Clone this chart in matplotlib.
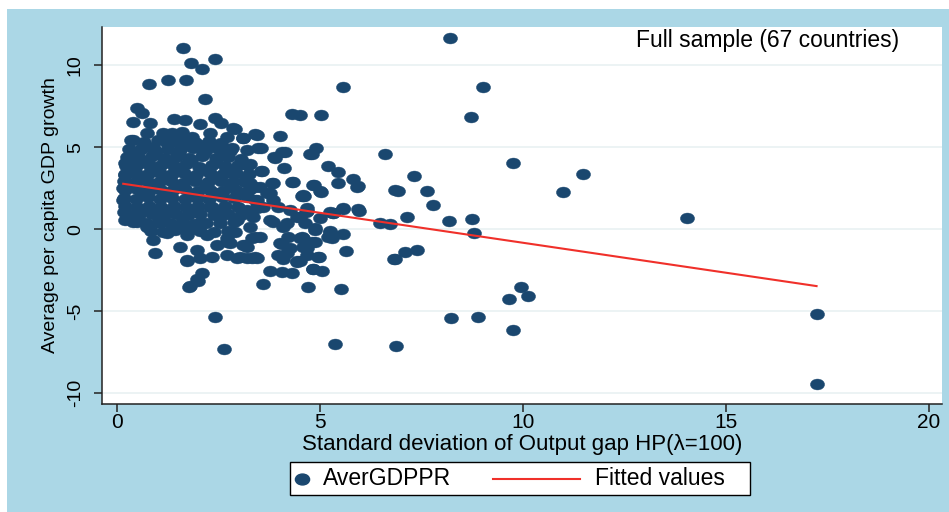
import matplotlib
matplotlib.use("Agg")
import matplotlib.pyplot as plt
import numpy as np
from matplotlib.path import Path
from matplotlib.transforms import Affine2D
from matplotlib.patches import Rectangle
from matplotlib.lines import Line2D

# ── Data ─────────────────────────────────────────────────────────────────────
# upper-left sparse part of the cloud
top_x = [1.64, 1.83, 2.42, 2.09, 0.80, 1.27, 1.71, 2.17, 0.49, 0.62, 0.41, 0.82,
         1.41, 1.68, 2.05, 2.42, 2.56, 2.91, 3.45, 0.39, 0.74, 1.15, 1.35, 1.60,
         1.85, 2.30, 2.71, 3.12, 0.57, 0.90, 1.23, 1.52, 1.76, 2.05, 2.42, 2.83,
         3.20, 3.49, 0.25, 0.49, 0.78]
top_y = [11.04, 10.16, 10.37, 9.76, 8.86, 9.10, 9.10, 7.93, 7.38, 7.11, 6.56, 6.50,
         6.73, 6.66, 6.42, 6.77, 6.50, 6.10, 5.75, 5.45, 5.85, 5.85, 5.85, 5.95,
         5.65, 5.85, 5.65, 5.55, 4.84, 5.04, 5.24, 5.34, 5.24, 5.14, 5.04, 4.94,
         4.84, 4.94, 3.98, 4.33, 4.12]

# dense core of the cloud
core_x = [0.35, 0.68, 1.02, 1.31, 1.62, 1.93, 2.27, 2.58,
          0.30, 0.63, 0.96, 1.26, 1.57, 1.88, 2.20, 2.51, 2.79,
          0.26, 0.56, 0.86, 1.16, 1.47, 1.79, 2.11, 2.44, 2.74, 3.05,
          0.23, 0.51, 0.81, 1.10, 1.41, 1.71, 2.02, 2.34, 2.66, 2.98,
          0.21, 0.48, 0.77, 1.06, 1.36, 1.66, 1.96, 2.29, 2.61, 2.94, 3.27,
          0.19, 0.46, 0.75, 1.04, 1.34, 1.63, 1.93, 2.24, 2.56, 2.86,
          0.21, 0.50, 0.79, 1.09, 1.39, 1.69, 2.00, 2.31, 2.62, 2.94, 3.26,
          0.19, 0.47, 0.77, 1.07, 1.37, 1.67, 1.97, 2.28, 2.59, 2.90,
          0.20, 0.50, 0.80, 1.10, 1.41, 1.71, 2.01, 2.34, 2.66, 2.99,
          0.26, 0.56, 0.86, 1.16, 1.46, 1.76, 2.06, 2.39, 2.73, 3.07,
          0.41, 0.71, 1.01, 1.31, 1.61, 1.91, 2.21, 2.55, 2.88,
          0.84, 1.14, 1.44, 1.75, 2.06, 2.39, 2.74]
core_y = [5.42, 5.31, 5.47, 5.36, 5.50, 5.33, 5.41, 5.28,
          4.87, 4.95, 4.80, 4.92, 4.85, 4.97, 4.83, 4.90, 4.78,
          4.41, 4.36, 4.47, 4.33, 4.44, 4.38, 4.46, 4.35, 4.42, 4.30,
          3.88, 3.95, 3.84, 3.92, 3.86, 3.97, 3.83, 3.90, 3.87, 3.93,
          3.38, 3.45, 3.35, 3.42, 3.37, 3.46, 3.33, 3.41, 3.36, 3.44, 3.39,
          2.93, 2.86, 2.95, 2.88, 2.97, 2.84, 2.92, 2.87, 2.94, 2.89,
          2.38, 2.45, 2.35, 2.42, 2.37, 2.44, 2.34, 2.41, 2.36, 2.43, 2.39,
          1.92, 1.86, 1.95, 1.88, 1.94, 1.85, 1.91, 1.87, 1.96, 1.89,
          1.41, 1.36, 1.44, 1.38, 1.43, 1.35, 1.42, 1.37, 1.45, 1.39,
          0.92, 0.86, 0.95, 0.88, 0.93, 0.85, 0.91, 0.87, 0.94, 0.89,
          0.42, 0.36, 0.44, 0.38, 0.43, 0.35, 0.41, 0.37, 0.45,
          -0.08, -0.14, -0.05, -0.12, -0.07, -0.15, -0.10]

# extra dots sitting between the rows of the core
fill_x = [0.36, 0.92, 1.52, 2.14, 2.71, 0.64, 1.23, 1.83, 2.45, 0.33, 0.95, 1.55,
          2.17, 2.78, 0.62, 1.24, 1.86, 2.48, 0.35, 0.97, 1.58, 2.19, 2.82, 0.63,
          1.27, 1.89, 2.52, 0.57, 1.29, 1.96, 2.63]
fill_y = [4.63, 4.68, 4.60, 4.66, 4.58, 4.15, 4.12, 4.18, 4.10, 3.66, 3.62, 3.69,
          3.60, 3.64, 3.13, 3.16, 3.10, 3.18, 2.64, 2.68, 2.61, 2.66, 2.62, 2.14,
          2.18, 2.11, 2.16, 1.15, 1.12, 1.18, 1.14]

# lower and left edge of the cloud
low_x = [0.20, 0.20, 0.16, 0.16, 0.18, 0.20, 0.49, 0.74, 0.90, 0.94, 1.56, 1.74,
         2.05, 2.09, 1.97, 1.81, 2.46, 2.79, 3.20, 3.41, 1.23, 1.72, 2.22, 2.71,
         1.97, 2.34, 2.71, 3.04, 3.33, 3.20, 2.87, 3.28, 3.45, 3.20, 2.96, 2.54,
         2.30, 2.05, 1.64, 1.07, 2.50, 3.04, 3.45, 1.72, 1.99, 1.79, 2.42, 2.65]
low_y = [4.02, 3.31, 2.50, 1.79, 1.07, 0.57, 0.46, 0.16, -0.65, -1.43, -1.10, -1.87,
         -1.77, -2.68, -3.03, -3.46, -0.96, -0.85, -1.06, -0.45, -0.24, -0.35, -0.35, -0.55,
         -1.26, -1.67, -1.57, -1.67, -1.77, 3.92, 3.41, 2.80, 1.79, 1.18, 0.57, 0.77,
         1.38, 0.37, 0.26, 0.37, 2.20, 2.20, 1.28, -1.93, -3.15, -3.54, -5.33, -7.32]

# middle band, x between about 3 and 6
mid_x = [4.31, 3.41, 4.02, 2.87, 3.55, 4.06, 3.88, 3.24, 4.11, 3.55, 4.31, 3.82,
         3.69, 3.41, 3.16, 2.92, 4.56, 3.12, 4.15, 4.76, 3.90, 3.28, 3.57, 3.16,
         3.86, 4.35, 4.84, 3.28, 3.53, 5.01, 3.78, 4.60, 3.41, 3.61, 3.98, 4.27,
         4.68, 3.12, 3.36, 4.43, 5.34, 5.58, 5.95, 3.86, 4.10, 4.64, 3.28, 3.53,
         5.21, 4.23, 4.56, 3.16, 4.06, 4.60, 4.88, 4.19, 3.41, 4.68, 4.97, 3.98,
         4.43, 3.20, 3.78, 4.06, 4.31, 3.61, 2.96, 3.45, 4.10, 4.43, 4.84, 4.68,
         4.51, 4.27, 4.02, 2.91, 2.71, 3.12, 3.33, 5.25, 6.83, 6.85, 4.88, 5.25,
         3.78, 4.19, 4.51, 4.68, 3.45, 3.86, 3.20, 4.60, 5.91]
mid_y = [7.01, 5.79, 5.69, 6.16, 4.98, 4.69, 4.39, 3.92, 3.76, 3.58, 2.87, 2.80,
         2.20, 2.60, 2.90, 3.41, 2.05, 5.55, 4.73, 4.59, 4.33, 3.98, 3.58, 3.01,
         2.80, 2.90, 2.70, 2.70, 2.56, 2.35, 2.20, 2.03, 1.79, 1.38, 1.38, 1.18,
         1.13, 1.01, 0.77, 0.77, 0.98, 1.28, 1.22, 0.46, 0.16, 0.37, 0.16, -0.45,
         -0.45, -0.45, -0.45, -0.96, -0.90, -1.06, -0.75, -1.46, -1.67, -1.57, -1.67, -1.57,
         -1.97, -1.77, -2.52, -2.58, -2.64, -3.35, -1.77, -1.77, -1.83, -1.93, -2.44, -1.16,
         -0.55, -1.16, -0.85, -0.15, -0.75, -0.96, -0.55, -0.15, -1.81, 2.40, 0.06, 1.07,
         0.57, 0.37, 0.77, 1.28, 1.38, 1.79, 1.99, 2.09, 2.60]

# scattered points further right
far_x = [8.21, 5.57, 9.02, 5.03, 4.52, 8.73, 4.91, 4.80, 6.61, 9.75, 11.48, 5.21,
         5.45, 7.33, 5.81, 5.94, 5.44, 4.87, 5.03, 10.99, 6.94, 7.64, 4.62, 7.80,
         5.98, 5.57, 5.34, 4.66, 5.01, 7.14, 8.19, 8.75, 8.80, 6.49, 6.73, 4.89,
         5.26, 5.57, 5.30, 4.58, 4.80, 4.66, 5.65, 7.39, 7.10, 6.86, 4.98, 4.52,
         4.83, 5.05, 4.72, 5.52, 9.95, 10.14, 9.66, 8.24, 8.91, 9.76, 5.38, 6.87,
         14.06, 17.24, 17.24]
far_y = [11.65, 8.66, 8.66, 6.97, 6.97, 6.87, 4.98, 4.57, 4.57, 4.06, 3.37, 3.86,
         3.47, 3.25, 3.07, 2.66, 2.80, 2.70, 2.29, 2.29, 2.35, 2.34, 2.05, 1.48,
         1.13, 1.24, 1.01, 1.07, 0.67, 0.73, 0.53, 0.63, -0.25, 0.40, 0.32, -0.04,
         -0.10, -0.31, -0.55, -0.55, -0.75, -1.16, -1.32, -1.26, -1.36, -1.81, -1.71, -1.93,
         -2.42, -2.54, -3.54, -3.64, -3.54, -4.05, -4.27, -5.39, -5.33, -6.14, -6.99, -7.12,
         0.71, -5.17, -9.45]

# Stata lfit line, drawn from min to max x
fit_x = [0.16, 17.24]
fit_y = [2.78, -3.46]

x_ticks = [0, 5, 10, 15, 20]
x_tick_labels = ["0", "5", "10", "15", "20"]
y_ticks = [-10, -5, 0, 5, 10]
y_tick_labels = ["-10", "-5", "0", "5", "10"]

# ── Style ────────────────────────────────────────────────────────────────────
W, H = 949, 512
NAVY = "#1a476f"
RED = "#f0302a"
BG = "#abd7e6"
FONT = ["Liberation Sans", "DejaVu Sans"]
FS = 16.5   # horizontal text
plt.rcParams["font.family"] = FONT


def fx(px):
    return px / W


def fy(py):
    return 1 - py / H


# Stata's picture is stretched sideways, so the dots are wider than tall
ellipse = Path.unit_circle().transformed(Affine2D().scale(1.3, 1.0))
MS = 10.2

fig = plt.figure(figsize=(W / 100, H / 100), dpi=100, facecolor="white")
fig.add_artist(Rectangle((fx(7), 0), 1 - fx(7), fy(9), transform=fig.transFigure,
                         facecolor=BG, edgecolor="none", zorder=0))

ax = fig.add_axes([fx(101.7), fy(404), fx(942) - fx(101.7), fy(27) - fy(404)])
ax.set_facecolor("white")

all_x = np.concatenate([top_x, core_x, fill_x, low_x, mid_x, far_x])
all_y = np.concatenate([top_y, core_y, fill_y, low_y, mid_y, far_y])
ax.plot(all_x, all_y, linestyle="none", marker=ellipse, markersize=MS,
        markerfacecolor=NAVY, markeredgecolor=NAVY, markeredgewidth=0.3, zorder=3)
ax.plot(fit_x, fit_y, color=RED, linewidth=1.5, zorder=4)

ax.set_xlim(-0.37, 20.33)
ax.set_ylim(-10.65, 12.34)
ax.set_xticks(x_ticks, x_tick_labels)
ax.set_yticks(y_ticks, y_tick_labels)

ax.yaxis.grid(True, color="#eaf2f3", linewidth=1.3)
ax.set_axisbelow(True)
for side in ["top", "right"]:
    ax.spines[side].set_visible(False)
for side in ["left", "bottom"]:
    ax.spines[side].set_color("#222222")
    ax.spines[side].set_linewidth(1.1)

ax.tick_params(axis="both", direction="out", length=5.8, width=1.1, color="#222222")
ax.tick_params(axis="x", pad=1, labelsize=15)
ax.tick_params(axis="y", pad=7, labelrotation=90, labelsize=14)
for lab in ax.get_yticklabels():
    lab.set_va("center")

ax.set_xlabel("Standard deviation of Output gap HP(λ=100)", fontsize=16, labelpad=1)
ax.set_ylabel("Average per capita GDP growth", fontsize=14, labelpad=6)

ax.text(19.27, 11.5, "Full sample (67 countries)", ha="right", va="center",
        fontsize=FS)

# legend box, drawn by hand to keep Stata's spacing
fig.add_artist(Rectangle((fx(290), fy(495)), fx(750) - fx(290), fy(462) - fy(495),
                         transform=fig.transFigure, facecolor="white",
                         edgecolor="black", linewidth=1.0, zorder=2))
ly = fy(478.5)
fig.add_artist(Line2D([fx(302)], [ly], transform=fig.transFigure, linestyle="none",
                      marker=ellipse, markersize=MS, color=NAVY, zorder=3))
fig.text(fx(323), ly, "AverGDPPR", ha="left", va="center", fontsize=FS, zorder=3)
fig.add_artist(Line2D([fx(493), fx(580)], [ly, ly], transform=fig.transFigure,
                      color=RED, linewidth=1.5, zorder=3))
fig.text(fx(595), ly, "Fitted values", ha="left", va="center", fontsize=FS, zorder=3)

fig.savefig("out.png", dpi=100, facecolor="white")
